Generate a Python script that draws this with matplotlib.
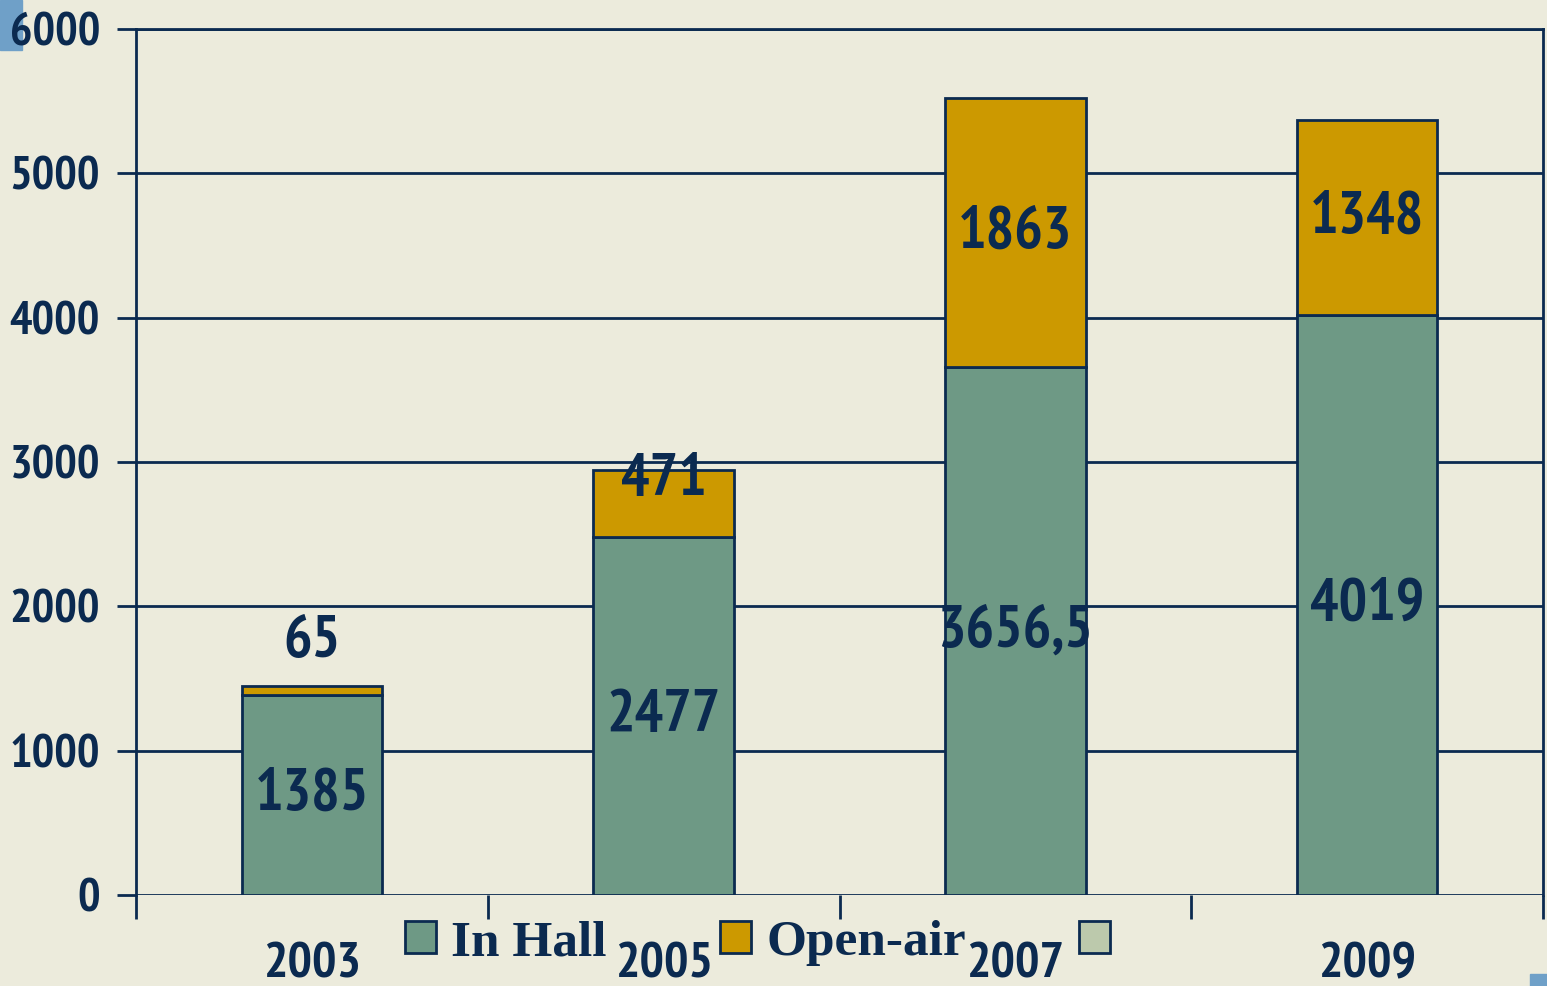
import matplotlib
matplotlib.use("Agg")
import matplotlib.pyplot as plt
import numpy as np
from matplotlib.patches import Patch, Rectangle

# data
years = ["2003", "2005", "2007", "2009"]
in_hall = [1385, 2477, 3656.5, 4019]
open_air = [65, 471, 1863, 1348]
yticks = [0, 1000, 2000, 3000, 4000, 5000, 6000]

navy = "#0B2A50"
green = "#6E9985"
gold = "#CC9900"
pale = "#BCC9AC"
bg = "#ECEBDC"

narrow = ["PT Sans Narrow", "IBM Plex Sans Condensed", "DejaVu Sans"]
serif = ["Liberation Serif", "DejaVu Serif"]


def fmt(v):
    return ("%g" % v).replace(".", ",")


fig = plt.figure(figsize=(15.47, 9.86), dpi=100, facecolor=bg)
ax = fig.add_axes([136 / 1547, 91 / 986, 1407 / 1547, 866 / 986])
ax.set_facecolor(bg)

x = np.arange(len(years))
w = 0.4
ax.bar(x, in_hall, w, color=green, edgecolor=navy, linewidth=2, zorder=3)
ax.bar(x, open_air, w, bottom=in_hall, color=gold, edgecolor=navy, linewidth=2, zorder=3)

lab_kw = dict(ha="center", va="center", fontsize=43, color=navy,
              family=narrow, fontweight="bold", zorder=5)

# value labels
for i in range(len(years)):
    ax.text(x[i], in_hall[i] / 2, fmt(in_hall[i]), **lab_kw)
    top = in_hall[i] + open_air[i]
    if open_air[i] < 100:
        ypos = top + 300          # tiny segment: label floats above the bar
    elif open_air[i] < 600:
        ypos = top - 70           # thin segment: label sits on its top edge
    else:
        ypos = in_hall[i] + open_air[i] / 2
    ax.text(x[i], ypos, fmt(open_air[i]), **lab_kw)

ax.set_xlim(-0.5, 3.5)
ax.set_ylim(0, 6000)
ax.set_yticks(yticks)
ax.yaxis.grid(True, color=navy, linewidth=2, zorder=1)
ax.set_axisbelow(True)

ax.set_xticks(np.arange(-0.5, 4, 1))
ax.set_xticklabels([])
ax.set_xticks(x, minor=True)
ax.set_xticklabels(years, minor=True)
ax.tick_params(axis="x", which="major", length=17, width=2, color=navy)
ax.tick_params(axis="x", which="minor", length=0, pad=34, labelsize=37,
               labelcolor=navy)
ax.tick_params(axis="y", length=14, width=2, color=navy, labelsize=34,
               labelcolor=navy, pad=12)
for lab in ax.get_xticklabels(minor=True) + ax.get_yticklabels():
    lab.set_family(narrow)
    lab.set_fontweight("bold")

for s in ax.spines.values():
    s.set_color(navy)
    s.set_linewidth(2)
ax.spines["bottom"].set_visible(False)

handles = [Patch(facecolor=green, edgecolor=navy, linewidth=2),
           Patch(facecolor=gold, edgecolor=navy, linewidth=2),
           Patch(facecolor=pale, edgecolor=navy, linewidth=2)]
fig.legend(handles, ["In Hall", "Open-air", ""], loc="center",
           bbox_to_anchor=(765 / 1547, 1 - 943 / 986), ncol=3, frameon=False,
           prop={"family": serif, "weight": "bold", "size": 37},
           handlelength=0.6, handleheight=0.6, handletextpad=0.3,
           columnspacing=2.2, labelcolor=navy)

# little blue corner squares of the slide
fig.add_artist(Rectangle((0, 1 - 50 / 986), 22 / 1547, 50 / 986,
                         transform=fig.transFigure, color="#6FA0C8", zorder=0))
fig.add_artist(Rectangle((1530 / 1547, 0), 17 / 1547, 12 / 986,
                         transform=fig.transFigure, color="#6FA0C8", zorder=0))

fig.savefig("out.png", dpi=100, facecolor=bg)
